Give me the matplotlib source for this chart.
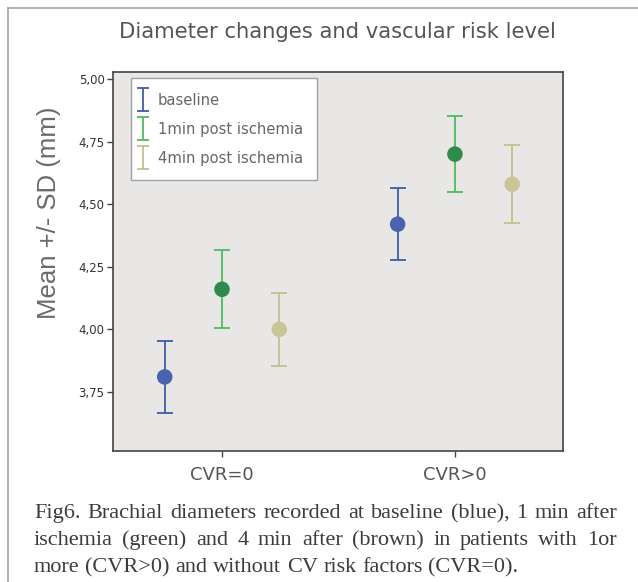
import numpy as np
import matplotlib
matplotlib.use("Agg")
import matplotlib.pyplot as plt
from matplotlib.container import ErrorbarContainer
from matplotlib.legend_handler import HandlerErrorbar
from matplotlib.lines import Line2D

# datos
grupos = ['CVR=0', 'CVR>0']
series = ['baseline', '1min post ischemia', '4min post ischemia']
medias = [[3.81, 4.42], [4.16, 4.70], [4.00, 4.58]]
desvios = [[0.145, 0.143], [0.155, 0.152], [0.145, 0.157]]
desplaz = [-0.246, 0.0, 0.246]

col_linea = ['#3f5ba9', '#4dbb5d', '#c3bf93']
col_punto = ['#4a63b1', '#2f8b4b', '#c9c594']

yticks = [3.75, 4.00, 4.25, 4.50, 4.75, 5.00]
ytick_lbl = ['3,75', '4,00', '4,25', '4,50', '4,75', '5,00']

caption = [
    "Fig6. Brachial diameters recorded at baseline (blue), 1 min after",
    "ischemia (green) and 4 min after (brown) in patients with 1or",
    "more (CVR>0) and without CV risk factors (CVR=0).",
]

W, H = 638, 582
fig = plt.figure(figsize=(W / 100, H / 100), dpi=100)
fig.patch.set_facecolor('white')

# marco exterior
fig.add_artist(Line2D([8 / W, 8 / W], [0, 1 - 8 / H], color='#a5a5a5', lw=1.2))
fig.add_artist(Line2D([8 / W, 1], [1 - 8 / H, 1 - 8 / H], color='#a5a5a5', lw=1.2))

ax = fig.add_axes([113 / W, 131 / H, 450 / W, 379.5 / H])
ax.set_facecolor('#e8e7e5')

x = np.arange(len(grupos))
for i in range(len(series)):
    xs = x + desplaz[i]
    ax.errorbar(xs, medias[i], yerr=desvios[i], fmt='none', ecolor=col_linea[i],
                elinewidth=1.3, capsize=5.6, capthick=1.3, label=series[i], zorder=2)
    ax.scatter(xs, medias[i], s=125, color=col_punto[i], edgecolors='none', zorder=3)

ax.set_xlim(-0.468, 1.464)
ax.set_ylim(3.514, 5.030)
ax.set_xticks(x)
ax.set_xticklabels(grupos, fontsize=13, color='#555555')
ax.set_yticks(yticks)
ax.set_yticklabels(ytick_lbl, fontsize=8.5, color='#333333')
ax.tick_params(axis='y', length=4.5, width=1, color='#444444', pad=1.5)
ax.tick_params(axis='x', length=4.5, width=1, color='#444444', pad=6)
for s in ax.spines.values():
    s.set_color('#444444')
    s.set_linewidth(1.2)

ax.set_ylabel('Mean +/- SD (mm)', fontsize=18.5, color='#6a6a6a',
              family='Liberation Sans')
ax.yaxis.set_label_coords(-0.116, 0.627)


# tapas mas cortas en la leyenda
def actualizar(h, orig):
    h.update_from(orig)
    if isinstance(h, Line2D) and h.get_marker() == '_':
        h.set_markersize(8)


leg = ax.legend(loc='upper left', bbox_to_anchor=(0.04, 0.983), borderaxespad=0,
                fontsize=10.6, frameon=True, fancybox=False, edgecolor='#a0a0a0',
                framealpha=1, handlelength=0.0, handletextpad=0.8, borderpad=1.0,
                labelspacing=0.95,
                handler_map={ErrorbarContainer: HandlerErrorbar(xerr_size=0.4, yerr_size=0.8,
                                                               xpad=-0.4,
                                                               update_func=actualizar)})
for t in leg.get_texts():
    t.set_color('#666666')

fig.text(337 / W, 1 - 38 / H, 'Diameter changes and vascular risk level',
         ha='center', va='baseline', fontsize=15.2, color='#555555')

# pie de figura justificado
r = fig.canvas.get_renderer()
x0, x1 = 34, 617
bases = [518, 545, 572]
fs_cap = 16
for j, linea in enumerate(caption):
    palabras = linea.split(' ')
    objs = [fig.text(0, 0, p, fontsize=fs_cap, family='Liberation Serif',
                     color='#3c3c3c', va='baseline') for p in palabras]
    anchos = [o.get_window_extent(r).width for o in objs]
    if j < len(caption) - 1:
        hueco = (x1 - x0 - sum(anchos)) / (len(palabras) - 1)
    else:
        esp = fig.text(0, 0, 'a a', fontsize=fs_cap, family='Liberation Serif')
        aa = fig.text(0, 0, 'aa', fontsize=fs_cap, family='Liberation Serif')
        hueco = esp.get_window_extent(r).width - aa.get_window_extent(r).width
        esp.remove()
        aa.remove()
    pos = x0
    for o, a in zip(objs, anchos):
        o.set_position((pos / W, 1 - bases[j] / H))
        pos += a + hueco

fig.savefig('out.png', dpi=100)
